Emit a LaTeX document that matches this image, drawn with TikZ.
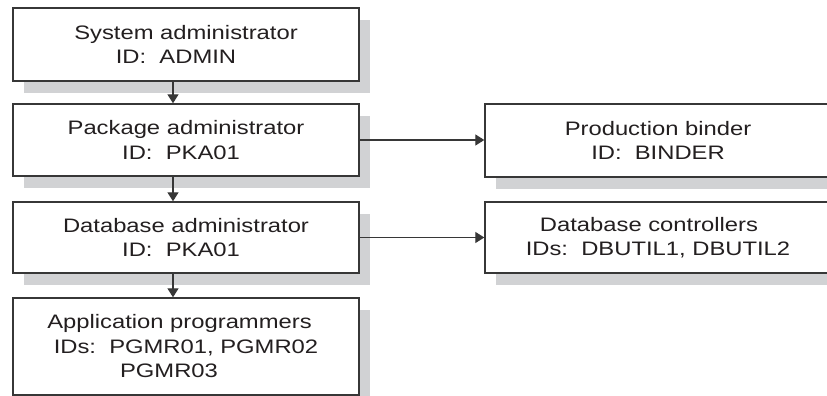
\documentclass[tikz,border=0pt]{standalone}
\usepackage{fontspec}
\setmainfont[FakeStretch=1.22]{Liberation Sans}
\usetikzlibrary{arrows.meta,shadows}
\definecolor{inkgray}{RGB}{35,31,32}
\definecolor{linegray}{RGB}{55,55,55}
\definecolor{shadegray}{RGB}{209,210,212}
\begin{document}
\begin{tikzpicture}[x=1pt, y=-1pt, line width=1.3pt, font=\fontsize{19.5}{24.5}\selectfont, text=inkgray]

    \tikzstyle{rbox}=[draw=linegray, fill=white, line width=1.4pt, minimum width=346pt, minimum height=72pt, inner sep=0pt, align=center, drop shadow={shadow xshift=11pt, shadow yshift=-12pt, fill=shadegray, opacity=1}]
    \tikzstyle{flow}=[draw=linegray, -{Triangle[length=9pt, width=11pt]}]

    \useasboundingbox (0,0) rectangle (827,396);
    \clip (0,0) rectangle (827,396);

    % left column
    \node[rbox, minimum height=73pt] (sys) at (186,44.5) {System administrator\\ID:\ \ ADMIN\hspace*{20pt}};
    \node[rbox] (pkg) at (186,140) {Package administrator\\ID:\ \ PKA01\hspace*{10pt}};
    \node[rbox, minimum height=71pt] (dba) at (186,237.5) {Database administrator\\ID:\ \ PKA01\hspace*{10pt}};
    \node[rbox, minimum height=97pt] (app) at (186,346.5) {Application programmers\hspace*{13pt}\\IDs:\ \ PGMR01, PGMR02\\PGMR03\hspace*{34pt}};

    % right column
    \node[rbox, minimum height=73pt] (pb) at (658,140.5) {Production binder\\ID:\ \ BINDER};
    \node[rbox, minimum height=71pt] (dc) at (658,237.5) {Database controllers\hspace*{18pt}\\IDs:\ \ DBUTIL1, DBUTIL2};

    \foreach \a/\b in {sys/pkg, pkg/dba, dba/app} {
        \draw[flow] ([xshift=-13pt]\a.south) -- ([xshift=-13pt]\b.north);
    }
    \draw[flow] (pkg.east) -- (pkg.east -| pb.west);
    \draw[flow] (dba.east) -- (dba.east -| dc.west);

\end{tikzpicture}
\end{document}
